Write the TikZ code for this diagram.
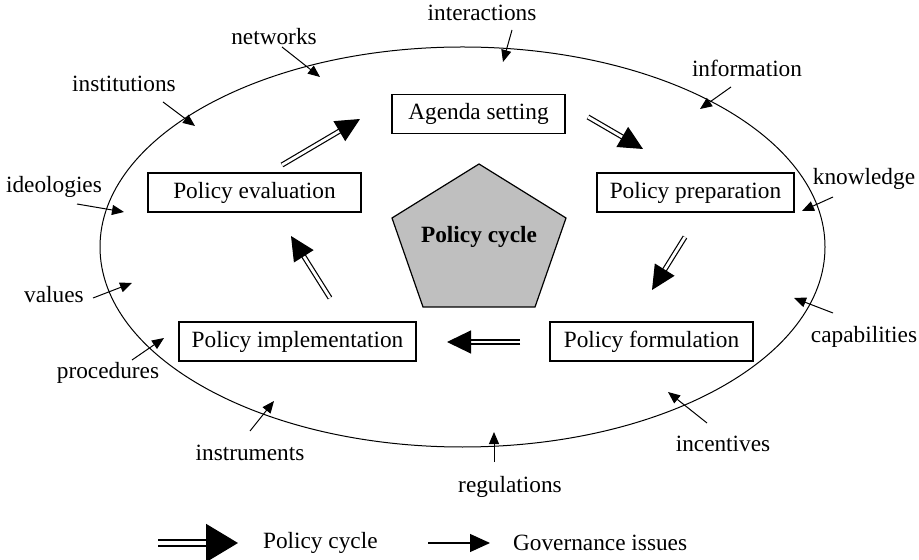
\documentclass[tikz,border=0pt]{standalone}
\usepackage{fontspec}
\setmainfont{Liberation Serif}
\usetikzlibrary{arrows.meta}

\tikzset{
	stage/.style={draw, line width=0.6pt, minimum height=19.5pt, inner xsep=0pt},
	cyc/.style={draw, double, double distance=1.4pt, line width=0.6pt, -{Triangle[length=12pt,width=11.5pt]}},
	gov/.style={draw, line width=0.5pt, -{Triangle[length=6pt,width=5pt]}}
}

\begin{document}
\begin{tikzpicture}[x=0.5pt, y=-0.5pt, font=\fontsize{11.65}{14}\selectfont]
	\useasboundingbox (0,0) rectangle (919,560);
	\draw[line width=0.5pt] (462.5,247) ellipse [x radius=362.5, y radius=200];
	% stages of the cycle
	\node[stage, minimum width=86.5pt] (agenda) at (478.5,114) {Agenda setting};
	\node[stage, minimum width=98.5pt] (prep) at (695.5,192.5) {Policy preparation};
	\node[stage, minimum width=101.5pt] (form) at (651.5,341.5) {Policy formulation};
	\node[stage, minimum width=118.5pt] (impl) at (297.5,341.5) {Policy implementation};
	\node[stage, minimum width=106.5pt] (eval) at (254.5,192.5) {Policy evaluation};
	% centre
	\filldraw[fill=gray!50, line width=0.6pt] (479,164) -- (566,218) -- (535,307) -- (423,307) -- (392,218) -- cycle;
	\node[font=\fontsize{11.65}{14}\selectfont\bfseries] (cycle) at (479,237) {Policy cycle};
	% cycle arrows
	\coordinate (e1) at (282,165); \coordinate (a0) at (360,119);
	\coordinate (a1) at (588,117); \coordinate (p0) at (643,149);
	\coordinate (p1) at (685,237); \coordinate (f0) at (652,290);
	\coordinate (f1) at (520,342); \coordinate (i0) at (447,342);
	\coordinate (i1) at (330,298); \coordinate (e0) at (291,236);
	\path[cyc] (e1) -- (a0);
	\path[cyc] (a1) -- (p0);
	\path[cyc] (p1) -- (f0);
	\path[cyc] (f1) -- (i0);
	\path[cyc] (i1) -- (e0);
	% governance issues
	\foreach \n/\lx/\ly/\sx/\sy/\tx/\ty in {
		interactions/482/13/512/30/503/62,
		networks/274/37/282/47/320/77,
		institutions/124/84/163/102/195/126,
		ideologies/54/187/77/204/124/212,
		values/54/295/93/298/132/283,
		procedures/108/373/132/360/164/338,
		instruments/250/453/250/431/274/401,
		regulations/510/487/494/462/494/432,
		incentives/723/444/707/423/668/392,
		capabilities/864/337/833/313/794/298,
		knowledge/864/179/833/197/802/211,
		information/747/68/731/87/700/109}
	{
		\node (\n) at (\lx,\ly) {\n};
		\coordinate (\n-s) at (\sx,\sy);
		\coordinate (\n-t) at (\tx,\ty);
		\path[gov] (\n-s) -- (\n-t);
	}
	% legend
	\coordinate (l1) at (158,543); \coordinate (l2) at (238,543);
	\coordinate (l3) at (428,543); \coordinate (l4) at (490,543);
	\path[cyc, double distance=1.8pt, line width=1pt, -{Triangle[length=16pt,width=19pt]}] (l1) -- (l2);
	\node[anchor=west] (leg1) at (256,543) {Policy cycle};
	\path[gov, line width=0.6pt, -{Triangle[length=10pt,width=9pt]}] (l3) -- (l4);
	\node[anchor=west] (leg2) at (506,543) {Governance issues};
\end{tikzpicture}
\end{document}
